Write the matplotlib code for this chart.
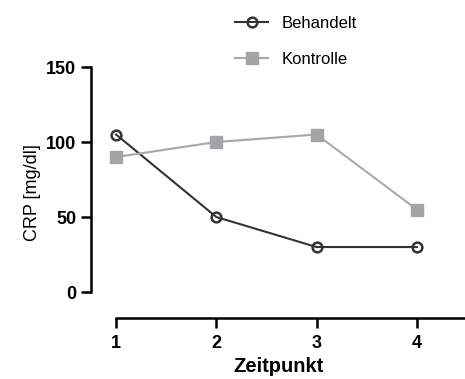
import matplotlib.pyplot as plt

plt.rcParams['font.family'] = ['Liberation Sans', 'DejaVu Sans']

zeitpunkt = [1, 2, 3, 4]
behandelt = [105, 50, 30, 30]
kontrolle = [90, 100, 105, 55]

fig = plt.figure(figsize=(4.65, 3.79), dpi=100)
ax = fig.add_axes([91/465, 61/379, 374/465, 251/379])

ax.plot(zeitpunkt, behandelt, color='#333333', lw=1.5, marker='o', ms=7,
        mfc='none', mec='#333333', mew=1.8, label='Behandelt', clip_on=False)
ax.plot(zeitpunkt, kontrolle, color='#a8a8a8', lw=1.5, marker='s', ms=8,
        mfc='#a3a3a8', mec='#a3a3a8', label='Kontrolle', clip_on=False)

ax.set_xlim(0.75, 4.48)
ax.set_ylim(-17.3, 150)
ax.spines['top'].set_visible(False)
ax.spines['right'].set_visible(False)
ax.spines['left'].set_bounds(0, 150)
ax.spines['bottom'].set_bounds(1, 4.48)
for s in ('left', 'bottom'):
    ax.spines[s].set_linewidth(1.8)
    ax.spines[s].set_color('black')

ax.set_xticks(zeitpunkt)
ax.set_yticks([0, 50, 100, 150])
ax.tick_params(width=1.8, length=7, labelsize=13)
ax.tick_params(axis='x', pad=5)
for lbl in ax.get_xticklabels() + ax.get_yticklabels():
    lbl.set_fontweight('bold')

ax.set_xlabel('Zeitpunkt', fontsize=14.5, fontweight='bold', labelpad=4)
ax.set_ylabel('CRP [mg/dl]', fontsize=13, labelpad=4)

fig.legend(loc='upper left', bbox_to_anchor=(220/465, 0.998), frameon=False,
           fontsize=12, handlelength=2.0, labelspacing=1.25)

fig.savefig('out.png', dpi=100)
